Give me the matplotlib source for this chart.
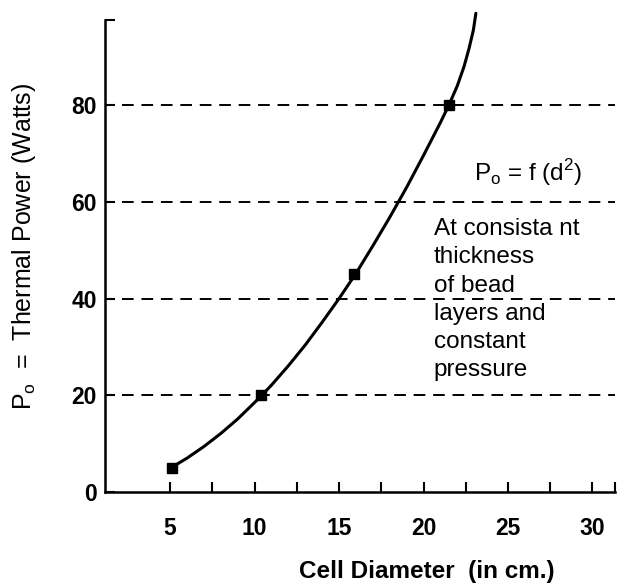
import numpy as np
import matplotlib
matplotlib.use('Agg')
import matplotlib.pyplot as plt
from matplotlib.ticker import FixedLocator

plt.rcParams['font.family'] = ['Liberation Sans', 'DejaVu Sans']

# measured points (cell diameter cm, thermal power W)
diam_pts = [5.1, 10.4, 15.9, 21.5]
power_pts = [5, 20, 45, 80]

# hand-drawn curve
curve_x = [5.1, 6.0, 7.0, 8.0, 9.0, 10.0, 10.4, 11.0, 12.0, 13.0, 14.0, 15.0, 16.0,
           17.0, 18.0, 19.0, 20.0, 21.0, 21.5, 22.0, 22.4, 22.7, 22.95, 23.1]
curve_y = [5.1, 7.0, 9.4, 12.1, 15.1, 18.5, 19.9, 22.1, 26.1, 30.4, 35.1, 40.0, 45.2,
           50.9, 56.8, 63.0, 69.6, 76.4, 80.0, 84.0, 88.0, 91.8, 95.5, 99.0]

x_major = [5, 10, 15, 20, 25, 30]
x_minor = [7.5, 12.5, 17.5, 22.5, 27.5]
y_major = [0, 20, 40, 60, 80]
grid_levels = [20, 40, 60, 80]

xmin, xmax = 1.15, 31.33
ymin, ymax = 0, 97.6

fig = plt.figure(figsize=(6.28, 5.87), dpi=100)
ax = fig.add_axes([0.1672, 0.1618, 0.812, 0.804])

for lvl in grid_levels:
    ax.axhline(lvl, xmin=0.033, xmax=1.0, color='black', lw=1.4, dashes=(6, 4))

ax.plot(curve_x, curve_y, color='black', lw=2.2, clip_on=False,
        solid_capstyle='round', solid_joinstyle='round')
ax.plot(diam_pts, power_pts, ls='none', marker='s', ms=7.5, color='black')

ax.set_xlim(xmin, xmax)
ax.set_ylim(ymin, ymax)

for s in ['top', 'right']:
    ax.spines[s].set_visible(False)
for s in ['left', 'bottom']:
    ax.spines[s].set_linewidth(1.8)

ax.xaxis.set_major_locator(FixedLocator(x_major))
ax.xaxis.set_minor_locator(FixedLocator(x_minor + [xmax]))
ax.yaxis.set_major_locator(FixedLocator(y_major))
ax.yaxis.set_minor_locator(FixedLocator([ymax]))

ax.tick_params(axis='both', which='both', direction='in', length=7, width=1.5, color='black')
ax.tick_params(axis='x', which='major', pad=18, labelsize=16.5)
ax.tick_params(axis='y', which='major', pad=6, labelsize=16.5)
for lab in ax.get_xticklabels() + ax.get_yticklabels():
    lab.set_fontweight('bold')

ax.set_xlabel('Cell Diameter  (in cm.)', fontsize=17.5, fontweight='bold')
ax.xaxis.set_label_coords(0.631, -0.143)
ax.set_ylabel(r'P$_\mathregular{o}$  =  Thermal Power (Watts)', fontsize=18)
ax.yaxis.set_label_coords(-0.131, 0.52)

ax.text(23.0, 66.1, r'P$_\mathregular{o}$ = f (d$^\mathregular{2}$)', fontsize=17.5, va='center', ha='left')
ax.text(20.6, 56.6, 'At consista nt\nthickness\nof bead\nlayers and\nconstant\npressure',
        fontsize=17.5, va='top', ha='left', linespacing=1.36)

plt.savefig('out.png', dpi=100)
plt.close()
